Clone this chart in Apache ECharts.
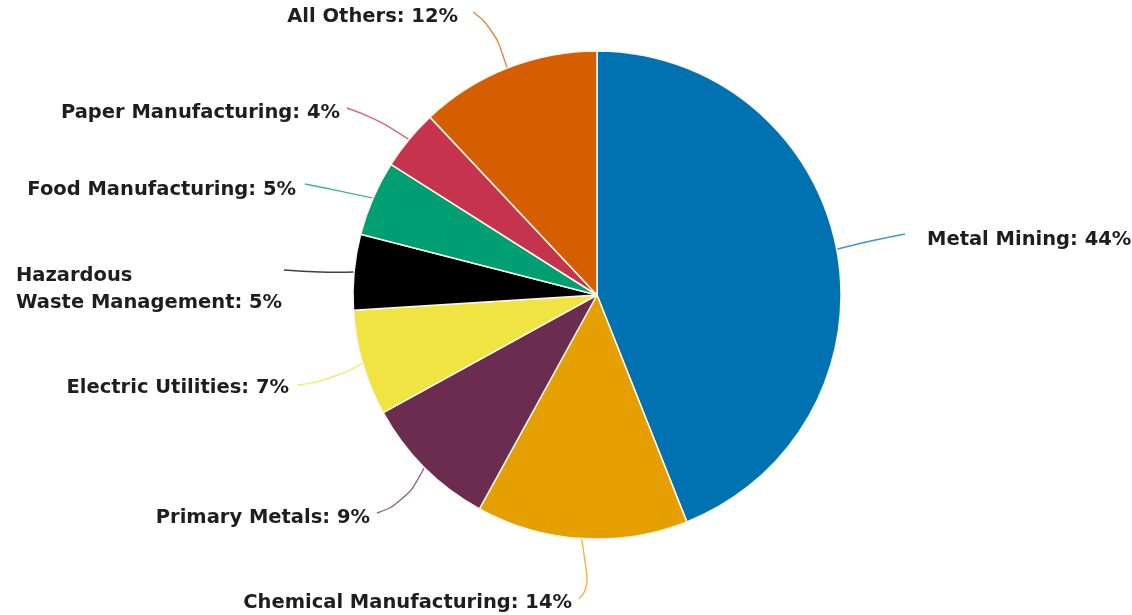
<!DOCTYPE html>
<html>
<head>
<meta charset="utf-8">
<script src="https://cdn.jsdelivr.net/npm/echarts@6/dist/echarts.min.js"></script>
<style>
  html, body { margin: 0; padding: 0; background: #ffffff; }
  #chart { width: 1132px; height: 615px; }
</style>
</head>
<body>
<div id="chart"></div>
<script>
// Industry sectors and their share of total releases (%), clockwise from 12 o'clock
const sectors = [
  'Metal Mining',
  'Chemical Manufacturing',
  'Primary Metals',
  'Electric Utilities',
  'Hazardous\nWaste Management',
  'Food Manufacturing',
  'Paper Manufacturing',
  'All Others'
];
const shares = [44, 14, 9, 7, 5, 5, 4, 12];
const sectorColors = ['#0072B2', '#E69F00', '#6B2C4F', '#F0E442', '#000000', '#009E73', '#C5344C', '#D55E00'];

// Where each label sits, plus the bend and end points of its leader line
const labelPlacement = [
  { x: 927, y: 240, align: 'left',  bend: [873, 240], end: [905, 234] },
  { x: 572, y: 603, align: 'right', bend: [589, 588], end: [579, 599] },
  { x: 370, y: 518, align: 'right', bend: [405, 503], end: [377, 513] },
  { x: 289, y: 388, align: 'right', bend: [330, 381], end: [297, 385] },
  { x: 16,  y: 289, align: 'left',  bend: [320, 273], end: [284, 270] },
  { x: 296, y: 190, align: 'right', bend: [340, 191], end: [305, 184] },
  { x: 340, y: 113, align: 'right', bend: [374, 117], end: [347, 108] },
  { x: 458, y: 17,  align: 'right', bend: [494, 28],  end: [473, 12] }
];

const chart = echarts.init(document.getElementById('chart'), null, { renderer: 'canvas' });

chart.setOption({
  animation: false,
  backgroundColor: '#ffffff',
  series: [{
    type: 'pie',
    center: [597, 295],
    radius: 244,
    startAngle: 90,
    clockwise: true,
    avoidLabelOverlap: false,
    data: sectors.map((name, i) => ({
      name: name,
      value: shares[i],
      itemStyle: { color: sectorColors[i] }
    })),
    itemStyle: {
      borderColor: '#fbf6e6',
      borderWidth: 1.5
    },
    label: {
      show: true,
      position: 'outside',
      formatter: '{b}: {c}%',
      fontFamily: 'DejaVu Sans',
      fontWeight: 'bold',
      fontSize: 19.5,
      lineHeight: 27,
      color: '#1e1e1e'
    },
    labelLine: {
      show: true,
      smooth: 0.5,
      lineStyle: { width: 1.4, opacity: 0.75 }
    },
    labelLayout: function (params) {
      const p = labelPlacement[params.dataIndex];
      const pts = params.labelLinePoints;
      const out = { x: p.x, y: p.y, align: p.align, verticalAlign: 'middle' };
      if (pts && pts.length) {
        out.labelLinePoints = [pts[0], p.bend, p.end];
      }
      return out;
    }
  }]
});
</script>
</body>
</html>
